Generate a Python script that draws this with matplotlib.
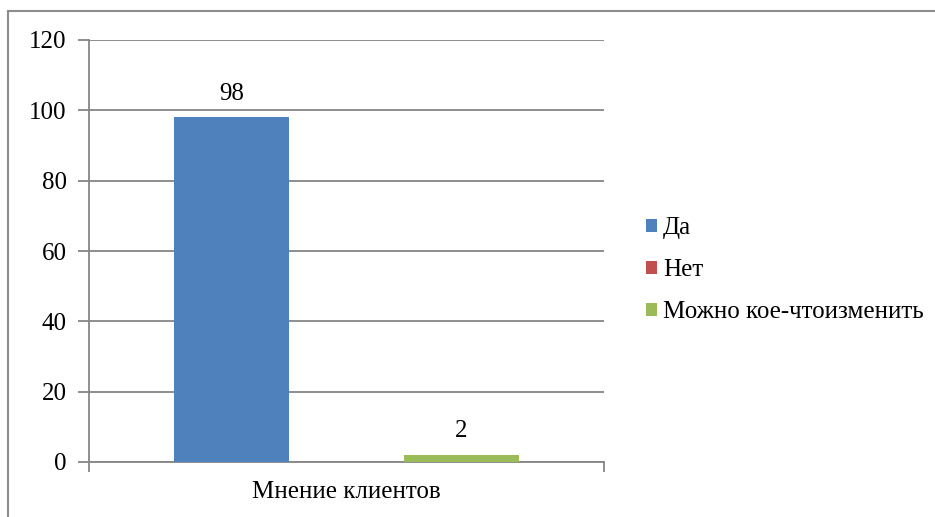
import matplotlib
matplotlib.use("Agg")
import matplotlib.pyplot as plt
from matplotlib.patches import Patch
from matplotlib.lines import Line2D
from matplotlib import font_manager
from matplotlib.font_manager import FontProperties

categories = ["Мнение клиентов"]
series_names = ["Да", "Нет", "Можно кое-чтоизменить"]
series_values = [98, 0, 2]
series_colors = ["#4F81BD", "#C0504D", "#9BBB59"]
yticks = [0, 20, 40, 60, 80, 100, 120]

FS = 18
path = None
for f in font_manager.fontManager.ttflist:
    if f.name in ('Liberation Serif', 'Tinos') and f.style == 'normal' and f.weight in (400, 'normal', 'regular'):
        path = f.fname
        break
if path is None:
    path = font_manager.findfont(FontProperties(family='serif'))
fp = FontProperties(fname=path, size=FS)

fig = plt.figure(figsize=(9.35, 5.17), dpi=100)
ax = fig.add_axes([89/935, 1-462/517, (604-89)/935, (462-40)/517])

width = 115/515
offsets = [-width, 0, width]
for name, val, col, off in zip(series_names, series_values, series_colors, offsets):
    ax.bar(off, val, width=width, color=col, label=name, zorder=3)
    if val > 0:
        ax.text(off, val + 3.6, str(val), ha='center', va='bottom',
                fontproperties=fp, color='black')

grid_c = '#868686'
ax.set_xlim(-0.5, 0.5)
ax.set_ylim(0, 120)
ax.set_yticks(yticks)
ax.set_yticklabels([str(t) for t in yticks], fontproperties=fp)
ax.yaxis.grid(True, color=grid_c, linewidth=1.3, zorder=0)
ax.set_xticks([0])
ax.set_xticklabels(categories, fontproperties=fp)
ax.set_xticks([-0.5, 0.5], minor=True)
ax.tick_params(axis='x', which='major', length=0, pad=14)
ax.tick_params(axis='x', which='minor', length=7, color=grid_c, width=1.3)
ax.tick_params(axis='y', length=8, color=grid_c, width=1.3, pad=8)
for s in ['top', 'right']:
    ax.spines[s].set_visible(False)
for s in ['left', 'bottom']:
    ax.spines[s].set_color(grid_c)
    ax.spines[s].set_linewidth(1.3)

handles = [Patch(facecolor=c, edgecolor='none') for c in series_colors]
fig.legend(handles, series_names, loc='center left',
           bbox_to_anchor=(646/935, 1-270/517), bbox_transform=fig.transFigure,
           frameon=False, prop=fp, handlelength=0.42, handleheight=0.42,
           handletextpad=0.25, labelspacing=0.8, borderpad=0, borderaxespad=0)

# outer chart border
fig.add_artist(Line2D([8/935, 8/935], [0, 1-11/517], transform=fig.transFigure,
                      color='#8c8c8c', linewidth=1.5))
fig.add_artist(Line2D([8/935, 1], [1-11/517, 1-11/517], transform=fig.transFigure,
                      color='#8c8c8c', linewidth=1.5))

fig.savefig("out.png", dpi=100)
